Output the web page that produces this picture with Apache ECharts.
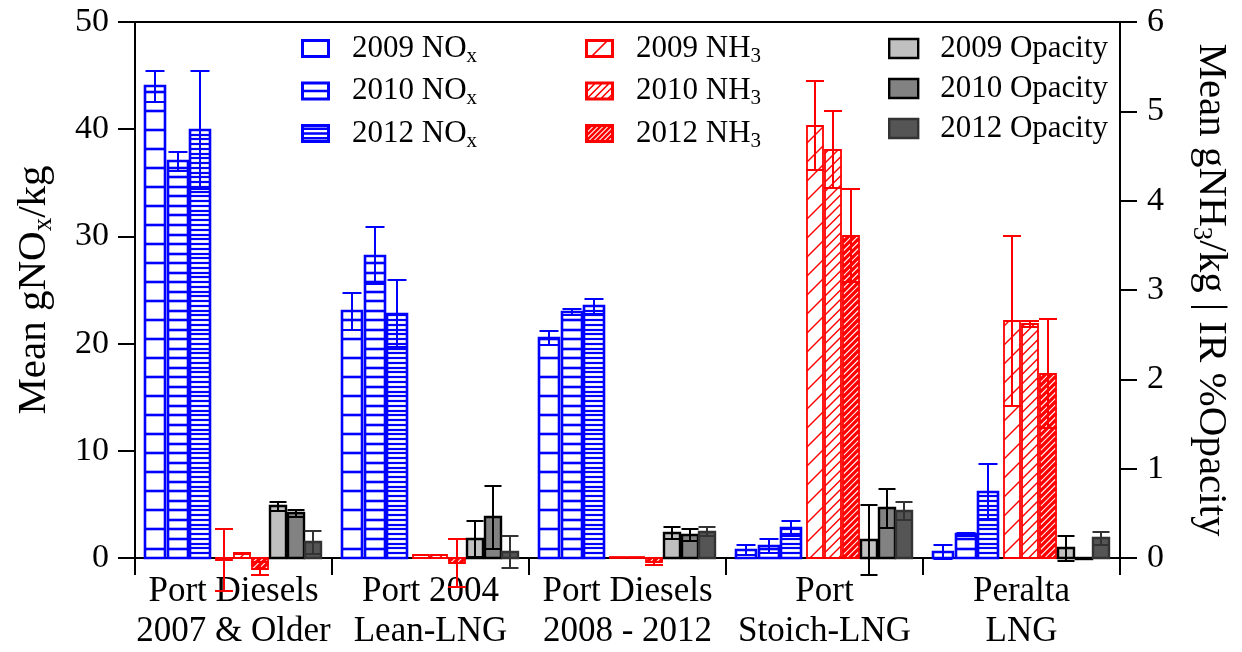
<!DOCTYPE html>
<html><head><meta charset="utf-8">
<script src="https://cdn.jsdelivr.net/npm/echarts@6/dist/echarts.min.js"></script>
<style>html,body{margin:0;padding:0;background:#fff}#c{width:1242px;height:652px}</style>
</head><body><div id="c"></div>
<script>
// ---------- data ----------
const categories = ['Port Diesels\n2007 & Older', 'Port 2004\nLean-LNG', 'Port Diesels\n2008 - 2012', 'Port\nStoich-LNG', 'Peralta\nLNG'];
const leftTicks = [0, 10, 20, 30, 40, 50];
const rightTicks = [0, 1, 2, 3, 4, 5, 6];

const nox2009 = [44.0, 23.0, 20.5, 0.75, 0.6];
const nox2009Err = [1.45, 1.7, 0.65, 0.5, 0.65];
const nox2010 = [37.0, 28.2, 22.95, 1.15, 2.2];
const nox2010Err = [0.9, 2.65, 0.3, 0.65, 0.12];
const nox2012 = [39.9, 22.8, 23.5, 2.77, 6.2];
const nox2012Err = [5.5, 3.1, 0.7, 0.68, 2.6];

const nh32009 = [-0.02, 0.03, 0.01, 4.84, 2.65];
const nh32009Err = [0.35, 0, 0, 0.5, 0.95];
const nh32010 = [0.05, 0.03, 0.01, 4.57, 2.62];
const nh32010Err = [0.01, 0, 0, 0.43, 0.03];
const nh32012 = [-0.12, -0.06, -0.04, 3.61, 2.06];
const nh32012Err = [0.07, 0.27, 0.035, 0.52, 0.61];

const opa2009 = [0.58, 0.21, 0.28, 0.20, 0.11];
const opa2009Err = [0.05, 0.2, 0.07, 0.39, 0.14];
const opa2010 = [0.50, 0.455, 0.257, 0.556, 0.005];
const opa2010Err = [0.04, 0.35, 0.065, 0.22, 0];
const opa2012 = [0.175, 0.07, 0.295, 0.526, 0.22];
const opa2012Err = [0.13, 0.18, 0.05, 0.1, 0.075];

// ---------- styling ----------
const FONT = 'Liberation Serif';
const BLUE = '#0000ff', RED = '#ff0000';

// slot offsets / widths as fraction of category band
const slots = [
  {off: -0.397, w: 0.102}, {off: -0.284, w: 0.102}, {off: -0.170, w: 0.102},
  {off: -0.046, w: 0.079}, {off: 0.0446, w: 0.079}, {off: 0.134, w: 0.079},
  {off: 0.225, w: 0.081}, {off: 0.316, w: 0.081}, {off: 0.405, w: 0.081}
];

function makeSeries(name, vals, errs, yAxisIndex, slot, st) {
  return {
    name: name, type: 'custom', yAxisIndex: yAxisIndex, clip: false,
    itemStyle: {color: st.stroke},
    data: vals.map((v, i) => [i, v, errs[i]]),
    encode: {x: 0, y: 1},
    silent: true,
    renderItem: function (params, api) {
      const R = Math.round;
      const ci = api.value(0), v = api.value(1), e = api.value(2);
      const band = api.size([1, 0])[0];
      const p0 = api.coord([ci, 0]), p1 = api.coord([ci, v]);
      const cx = R(p0[0] + slot.off * band), w = slot.w * band;
      const x0 = R(cx - w / 2), x1 = R(cx + w / 2);
      const base = R(p0[1]);
      const yT = R(Math.min(p0[1], p1[1])), yB = R(Math.max(p0[1], p1[1]));
      const h = Math.max(yB - yT, 1);
      const ch = [];
      ch.push({type: 'rect', shape: {x: x0, y: yT, width: x1 - x0, height: h}, style: {fill: st.fill, stroke: 'none'}});
      if (st.hs) {
        for (let y = base - st.hp; y > yT + 0.8; y -= st.hs) {
          if (y < yB - 0.5) { const yy = R(y); ch.push({type: 'line', shape: {x1: x0, y1: yy, x2: x1, y2: yy}, style: {stroke: st.stroke, lineWidth: st.plw}}); }
        }
      }
      if (st.ds) {
        const cmin = x0 + yT, cmax = x1 + yB;
        for (let c = Math.ceil(cmin / st.ds) * st.ds; c < cmax; c += st.ds) {
          const xa = Math.max(x0, c - yB), xb = Math.min(x1, c - yT);
          if (xb - xa > 0.3) ch.push({type: 'line', shape: {x1: xa, y1: c - xa, x2: xb, y2: c - xb}, style: {stroke: st.stroke, lineWidth: st.plw}});
        }
      }
      ch.push({type: 'rect', shape: {x: x0, y: yT, width: x1 - x0, height: h}, style: {fill: 'none', stroke: st.stroke, lineWidth: st.lw}});
      if (e > 0) {
        const a = R(api.coord([ci, v + e])[1]), b = R(api.coord([ci, v - e])[1]);
        const cw = st.cap / 2;
        const es = {stroke: st.err, lineWidth: 2};
        ch.push({type: 'line', shape: {x1: cx, y1: a, x2: cx, y2: b}, style: es});
        ch.push({type: 'line', shape: {x1: cx - cw, y1: a, x2: cx + cw, y2: a}, style: es});
        ch.push({type: 'line', shape: {x1: cx - cw, y1: b, x2: cx + cw, y2: b}, style: es});
      }
      return {type: 'group', children: ch};
    }
  };
}

const noxStyle = (hs, hp, plw) => ({fill: '#fff', stroke: BLUE, lw: 2.6, plw: plw, hs: hs, hp: hp, err: BLUE, cap: 19});
const nh3Style = (ds, plw) => ({fill: '#fff', stroke: RED, lw: 1.8, plw: plw, ds: ds, err: RED, cap: 18});
const opaStyle = (fill, stroke) => ({fill: fill, stroke: stroke, lw: 2.4, err: stroke, cap: 17});

const series = [
  makeSeries('2009 NOx', nox2009, nox2009Err, 0, slots[0], noxStyle(19.03, 9.5, 2.6)),
  makeSeries('2010 NOx', nox2010, nox2010Err, 0, slots[1], noxStyle(9.515, 9.5, 2.6)),
  makeSeries('2012 NOx', nox2012, nox2012Err, 0, slots[2], noxStyle(4.757, 4.757, 2.2)),
  makeSeries('2009 NH3', nh32009, nh32009Err, 1, slots[3], nh3Style(19, 1.5)),
  makeSeries('2010 NH3', nh32010, nh32010Err, 1, slots[4], nh3Style(9.5, 1.5)),
  makeSeries('2012 NH3', nh32012, nh32012Err, 1, slots[5], nh3Style(6.2, 3.3)),
  makeSeries('2009 Opacity', opa2009, opa2009Err, 1, slots[6], opaStyle('#c0c0c0', '#000')),
  makeSeries('2010 Opacity', opa2010, opa2010Err, 1, slots[7], opaStyle('#828282', '#000')),
  makeSeries('2012 Opacity', opa2012, opa2012Err, 1, slots[8], opaStyle('#555555', '#333'))
];

// ---------- legend icons ----------
const IW = 29, IH = 19, IB = 3;
function rp(x0, y0, x1, y1) { return 'M' + x0 + ' ' + y0 + 'L' + x1 + ' ' + y0 + 'L' + x1 + ' ' + y1 + 'L' + x0 + ' ' + y1 + 'Z'; }
function rpccw(x0, y0, x1, y1) { return 'M' + x0 + ' ' + y0 + 'L' + x0 + ' ' + y1 + 'L' + x1 + ' ' + y1 + 'L' + x1 + ' ' + y0 + 'Z'; }
function frame() { return rp(0, 0, IW, IH) + rpccw(IB, IB, IW - IB, IH - IB); }
function hIcon(n) {
  let p = frame();
  for (let k = 1; k <= n; k++) { const y = IH * k / (n + 1); p += rp(0, y - 1.3, IW, y + 1.3); }
  return 'path://' + p;
}
function clipPoly(poly) {
  const bounds = [[0, 0, 1], [0, IW, -1], [1, 0, 1], [1, IH, -1]];
  let out = poly;
  for (const [ax, v, s] of bounds) {
    const inp = out; out = [];
    for (let i = 0; i < inp.length; i++) {
      const a = inp[i], b = inp[(i + 1) % inp.length];
      const ia = s * (a[ax] - v) >= 0, ib = s * (b[ax] - v) >= 0;
      if (ia) out.push(a);
      if (ia !== ib) { const t = (v - a[ax]) / (b[ax] - a[ax]); out.push([a[0] + t * (b[0] - a[0]), a[1] + t * (b[1] - a[1])]); }
    }
    if (!out.length) break;
  }
  return out;
}
function dIcon(cs, d) {
  let p = frame();
  for (const c of cs) {
    let poly = [[-50, c - d + 50], [IW + 50, c - d - IW - 50], [IW + 50, c + d - IW - 50], [-50, c + d + 50]];
    poly = clipPoly(poly);
    if (poly.length < 3) continue;
    let area = 0;
    for (let i = 0; i < poly.length; i++) { const a = poly[i], b = poly[(i + 1) % poly.length]; area += a[0] * b[1] - b[0] * a[1]; }
    if (area < 0) poly.reverse();
    p += 'M' + poly.map(q => q[0].toFixed(2) + ' ' + q[1].toFixed(2)).join('L') + 'Z';
  }
  return 'path://' + p;
}
function range(a, b, s) { const r = []; for (let c = a; c <= b; c += s) r.push(c); return r; }

const richLegend = {
  t: {fontFamily: FONT, fontSize: 31, color: '#000', lineHeight: 36, padding: [0, 0, 0, 17]},
  s: {fontFamily: FONT, fontSize: 21, color: '#000', lineHeight: 22, verticalAlign: 'bottom'}
};
function legendFmt(name) {
  const m = name.match(/^(.*?)(x|3)$/);
  if (m && (name.indexOf('NOx') >= 0 || name.indexOf('NH3') >= 0)) return '{t|' + m[1] + '}{s|' + m[2] + '}';
  return '{t|' + name + '}';
}
function mkLegend(left, items) {
  return {
    orient: 'vertical', left: left, top: 28, itemGap: 9, itemWidth: IW, itemHeight: IH,
    selectedMode: false, formatter: legendFmt, symbolKeepAspect: false,
    textStyle: {fontFamily: FONT, fontSize: 31, color: '#000', rich: richLegend},
    data: items
  };
}
const legends = [
  mkLegend(296, [
    {name: '2009 NOx', icon: hIcon(0), itemStyle: {color: BLUE, borderWidth: 0}},
    {name: '2010 NOx', icon: hIcon(1), itemStyle: {color: BLUE, borderWidth: 0}},
    {name: '2012 NOx', icon: hIcon(3), itemStyle: {color: BLUE, borderWidth: 0}}
  ]),
  mkLegend(580, [
    {name: '2009 NH3', icon: dIcon([24], 1.1), itemStyle: {color: RED, borderWidth: 0}},
    {name: '2010 NH3', icon: dIcon(range(-2, 60, 7), 1.1), itemStyle: {color: RED, borderWidth: 0}},
    {name: '2012 NH3', icon: dIcon(range(-2, 60, 5), 1.8), itemStyle: {color: RED, borderWidth: 0}}
  ]),
  mkLegend(883, [
    {name: '2009 Opacity', icon: 'rect', itemStyle: {color: '#c0c0c0', borderColor: '#000', borderWidth: 2.4}},
    {name: '2010 Opacity', icon: 'rect', itemStyle: {color: '#828282', borderColor: '#000', borderWidth: 2.4}},
    {name: '2012 Opacity', icon: 'rect', itemStyle: {color: '#555555', borderColor: '#333', borderWidth: 2.4}}
  ])
];

const axisLine = {show: true, lineStyle: {color: '#000', width: 2}};
const axisTick = {show: true, inside: false, length: 17, lineStyle: {color: '#000', width: 2}};

const chart = echarts.init(document.getElementById('c'), null, {renderer: 'canvas'});
chart.setOption({
  backgroundColor: '#fff',
  animation: false,
  legend: legends,
  grid: {left: 135, right: 122, top: 22, bottom: 94, show: true, borderColor: '#000', borderWidth: 2, backgroundColor: 'transparent'},
  xAxis: {
    type: 'category', data: categories, axisLine: axisLine, axisTick: axisTick,
    axisLabel: {fontFamily: FONT, fontSize: 35, color: '#000', lineHeight: 40, margin: 14, interval: 0},
    splitLine: {show: false}
  },
  yAxis: [
    {
      type: 'value', min: leftTicks[0], max: leftTicks[leftTicks.length - 1], interval: leftTicks[1] - leftTicks[0],
      position: 'left', axisLine: axisLine, axisTick: axisTick, splitLine: {show: false},
      axisLabel: {fontFamily: FONT, fontSize: 34, color: '#000', margin: 26},
      name: '{a|Mean gNO}{s|x}{a|/kg}', nameLocation: 'middle', nameGap: 78,
      nameTextStyle: {fontFamily: FONT, fontSize: 41, color: '#000', rich: {
        a: {fontFamily: FONT, fontSize: 41, color: '#000', lineHeight: 46},
        s: {fontFamily: FONT, fontSize: 27, color: '#000', lineHeight: 26, verticalAlign: 'bottom'}
      }}
    },
    {
      type: 'value', min: rightTicks[0], max: rightTicks[rightTicks.length - 1], interval: rightTicks[1] - rightTicks[0],
      position: 'right', axisLine: axisLine, axisTick: axisTick, splitLine: {show: false},
      axisLabel: {fontFamily: FONT, fontSize: 34, color: '#000', margin: 27},
      name: '{a|Mean gNH}{s|3}{a|/kg | IR %Opacity}', nameLocation: 'middle', nameGap: 68, nameRotate: -90,
      nameTextStyle: {fontFamily: FONT, fontSize: 41, color: '#000', rich: {
        a: {fontFamily: FONT, fontSize: 41, color: '#000', lineHeight: 46},
        s: {fontFamily: FONT, fontSize: 27, color: '#000', lineHeight: 26, verticalAlign: 'bottom'}
      }}
    }
  ],
  series: series
});
</script>
</body></html>
